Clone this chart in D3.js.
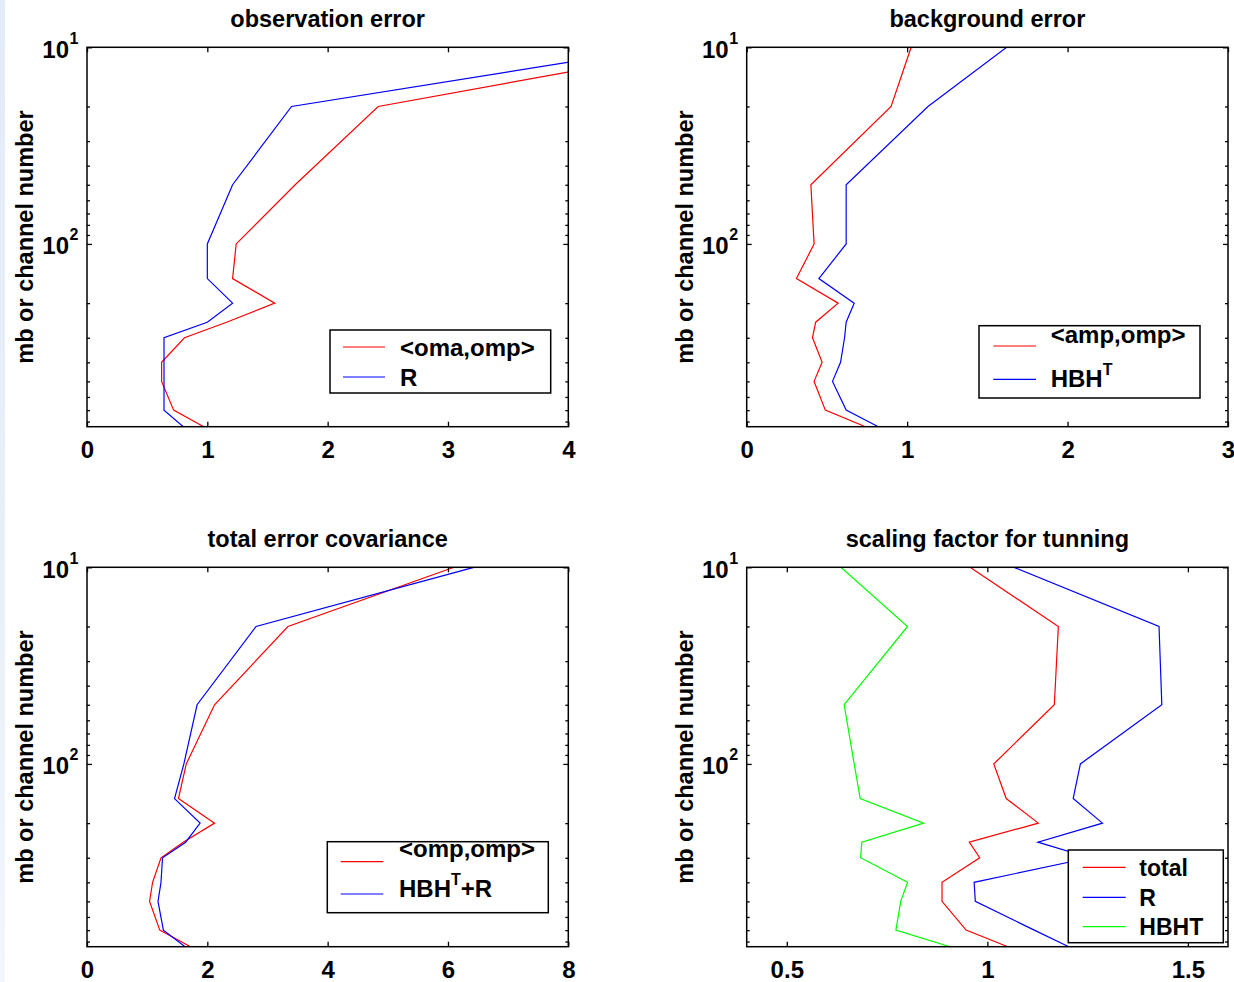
<!DOCTYPE html>
<html>
<head>
<meta charset="utf-8">
<script src="https://cdn.jsdelivr.net/npm/d3@7"></script>
<style>
  html, body { margin: 0; padding: 0; background: #fff; }
  svg { display: block; }
  text { font-family: "Liberation Sans", Arial, Helvetica, sans-serif; font-weight: bold; fill: #000; }
</style>
</head>
<body>
<svg id="fig" width="1234" height="982"></svg>
<script>
// Pressure levels (mb), top of the atmosphere first
const levels = [10, 20, 50, 100, 150, 200, 250, 300, 400, 500, 700, 850];

// observation error
const obsOmaOmp = [5.13, 2.42, 1.73, 1.24, 1.21, 1.56, 1.16, 0.81, 0.62, 0.62, 0.72, 0.97];
const obsR      = [4.78, 1.70, 1.21, 1.00, 1.00, 1.21, 1.00, 0.64, 0.64, 0.64, 0.64, 0.80];

// background error
const bgAmpOmp  = [1.025, 0.90, 0.40, 0.42, 0.31, 0.57, 0.43, 0.41, 0.47, 0.42, 0.49, 0.74];
const bgHBHT    = [1.62, 1.13, 0.62, 0.62, 0.45, 0.67, 0.62, 0.61, 0.585, 0.535, 0.62, 0.82];

// total error covariance
const totOmpOmp = [6.10, 3.34, 2.12, 1.65, 1.52, 2.12, 1.60, 1.23, 1.09, 1.04, 1.21, 1.72];
const totHBHTR  = [6.43, 2.81, 1.83, 1.61, 1.455, 1.88, 1.64, 1.255, 1.23, 1.18, 1.27, 1.63];

// scaling factor for tuning
const sfTotal   = [0.957, 1.177, 1.167, 1.016, 1.047, 1.127, 0.955, 0.981, 0.887, 0.887, 0.947, 1.051];
const sfR       = [1.066, 1.428, 1.435, 1.232, 1.214, 1.287, 1.126, 1.255, 0.967, 0.970, 1.117, 1.203];
const sfHBHT    = [0.635, 0.801, 0.643, 0.668, 0.683, 0.841, 0.687, 0.684, 0.801, 0.784, 0.772, 0.907];

// Axis ranges and tick labels
const xTicksObs = [0, 1, 2, 3, 4];
const xTicksBg  = [0, 1, 2, 3];
const xTicksTot = [0, 2, 4, 6, 8];
const xTicksSf  = [0.5, 1, 1.5];
const yMajor = [10, 100];
const yMinor = [20, 30, 40, 50, 60, 70, 80, 90, 200, 300, 400, 500, 600, 700, 800];
const yLabel = "mb or channel number";

const RED = "#ff0000", BLUE = "#0000ff", GREEN = "#00ff00";

const panels = [
  { title: "observation error", left: 87, top: 47.3, xDomain: [0, 4], xTicks: xTicksObs,
    series: [{ v: obsOmaOmp, c: RED }, { v: obsR, c: BLUE }],
    legend: { x: 330, y: 330, w: 220.7, h: 63, lineX: [13, 55], textX: 70,
      items: [ { c: RED, ly: 17, ty: 25.6, parts: [["<oma,omp>"]] },
               { c: BLUE, ly: 47, ty: 55.6, parts: [["R"]] } ] } },
  { title: "background error", left: 746.7, top: 47.3, xDomain: [0, 3], xTicks: xTicksBg,
    series: [{ v: bgAmpOmp, c: RED }, { v: bgHBHT, c: BLUE }],
    legend: { x: 979, y: 325.7, w: 221, h: 72.3, lineX: [14.3, 57], textX: 71.7,
      items: [ { c: RED, ly: 20.3, ty: 17.5, parts: [["<amp,omp>"]] },
               { c: BLUE, ly: 53.6, ty: 61.5, parts: [["HBH"], ["T", "sup"]] } ] } },
  { title: "total error covariance", left: 87, top: 567.3, xDomain: [0, 8], xTicks: xTicksTot,
    series: [{ v: totOmpOmp, c: RED }, { v: totHBHTR, c: BLUE }],
    legend: { x: 327.3, y: 841.7, w: 221, h: 71, lineX: [13.4, 56], textX: 71.7,
      items: [ { c: RED, ly: 20, ty: 15, parts: [["<omp,omp>"]] },
               { c: BLUE, ly: 52.3, ty: 55, parts: [["HBH"], ["T", "sup"], ["+R", "base"]] } ] } },
  { title: "scaling factor for tunning", left: 746.7, top: 567.3, xDomain: [0.4, 1.6], xTicks: xTicksSf,
    series: [{ v: sfTotal, c: RED }, { v: sfR, c: BLUE }, { v: sfHBHT, c: GREEN }],
    legend: { x: 1068.3, y: 850, w: 155, h: 92.7, lineX: [14.4, 57.4], textX: 71, fontSize: 23,
      items: [ { c: RED, ly: 17.3, ty: 26, parts: [["total"]] },
               { c: BLUE, ly: 47.3, ty: 56, parts: [["R"]] },
               { c: GREEN, ly: 76.7, ty: 85, parts: [["HBHT"]] } ] } }
];

const PW = 481.3, PH = 379.4;
const svg = d3.select("#fig");

// faint strip along the left margin
const grad = svg.append("defs").append("linearGradient")
  .attr("id", "edge").attr("x1", 0).attr("y1", 0).attr("x2", 0).attr("y2", 1);
grad.append("stop").attr("offset", "0%").attr("stop-color", "#e2ebf8");
grad.append("stop").attr("offset", "55%").attr("stop-color", "#e8eff9");
grad.append("stop").attr("offset", "100%").attr("stop-color", "#f3f6fb");
svg.append("rect").attr("x", 0).attr("y", 0).attr("width", 5).attr("height", 982).attr("fill", "url(#edge)");

panels.forEach((p, i) => {
  const x = d3.scaleLinear().domain(p.xDomain).range([p.left, p.left + PW]);
  const y = d3.scaleLog().domain([10, 850]).range([p.top, p.top + PH]);
  const bottom = p.top + PH, right = p.left + PW;
  const g = svg.append("g");

  const clipId = "clip" + i;
  svg.select("defs").append("clipPath").attr("id", clipId)
    .append("rect").attr("x", p.left).attr("y", p.top).attr("width", PW).attr("height", PH);

  // profiles
  const line = d3.line().x(d => x(d[0])).y(d => y(d[1]));
  const lines = g.append("g").attr("clip-path", `url(#${clipId})`);
  p.series.forEach(s => {
    lines.append("path")
      .attr("d", line(s.v.map((v, k) => [v, levels[k]])))
      .attr("fill", "none").attr("stroke", s.c).attr("stroke-width", 1.2)
      .attr("stroke-linejoin", "miter");
  });

  // ticks (inward on all four sides)
  const styleAxis = sel => {
    sel.select(".domain").remove();
    sel.selectAll(".tick line").attr("stroke", "#000").attr("stroke-width", 1.3);
  };
  g.append("g").attr("transform", `translate(0,${bottom})`)
    .call(d3.axisBottom(x).tickValues(p.xTicks).tickSizeInner(-5).tickSizeOuter(0).tickPadding(14)
      .tickFormat(d3.format("")))
    .call(styleAxis)
    .call(sel => sel.selectAll(".tick text").attr("font-size", 24).attr("font-family", null).attr("fill", "#000"));
  g.append("g").attr("transform", `translate(0,${p.top})`)
    .call(d3.axisTop(x).tickValues(p.xTicks).tickSizeInner(-5).tickSizeOuter(0).tickFormat(""))
    .call(styleAxis);
  [[yMajor, 5], [yMinor, 3]].forEach(([vals, len]) => {
    g.append("g").attr("transform", `translate(${p.left},0)`)
      .call(d3.axisLeft(y).tickValues(vals).tickSizeInner(-len).tickSizeOuter(0).tickFormat(""))
      .call(styleAxis);
    g.append("g").attr("transform", `translate(${right},0)`)
      .call(d3.axisRight(y).tickValues(vals).tickSizeInner(-len).tickSizeOuter(0).tickFormat(""))
      .call(styleAxis);
  });

  // y tick labels as powers of ten
  yMajor.forEach(v => {
    const ty = y(v);
    g.append("text").attr("x", p.left - 18).attr("y", ty + 10.5)
      .attr("text-anchor", "end").attr("font-size", 24).text("10");
    g.append("text").attr("x", p.left - 17.5).attr("y", ty - 3.5)
      .attr("font-size", 16).text(String(Math.round(Math.log10(v))));
  });

  // box
  g.append("rect").attr("x", p.left).attr("y", p.top).attr("width", PW).attr("height", PH)
    .attr("fill", "none").attr("stroke", "#000").attr("stroke-width", 1.5);

  // title and y label
  g.append("text").attr("x", p.left + PW / 2).attr("y", p.top - 20)
    .attr("text-anchor", "middle").attr("font-size", 23.5).text(p.title);
  g.append("text")
    .attr("transform", `translate(${p.left - 54},${p.top + PH / 2}) rotate(-90)`)
    .attr("text-anchor", "middle").attr("font-size", 23.5).text(yLabel);

  // legend
  const L = p.legend, fs = L.fontSize || 24;
  const lg = g.append("g").attr("transform", `translate(${L.x},${L.y})`);
  lg.append("rect").attr("width", L.w).attr("height", L.h)
    .attr("fill", "#fff").attr("stroke", "#000").attr("stroke-width", 1.5);
  L.items.forEach(it => {
    lg.append("line").attr("x1", L.lineX[0]).attr("x2", L.lineX[1])
      .attr("y1", it.ly).attr("y2", it.ly).attr("stroke", it.c).attr("stroke-width", 1.2);
    const t = lg.append("text").attr("x", L.textX).attr("y", it.ty).attr("font-size", fs);
    let shifted = false;
    it.parts.forEach(([str, kind]) => {
      const ts = t.append("tspan").text(str);
      if (kind === "sup") { ts.attr("font-size", 16).attr("dy", -12); shifted = true; }
      else if (kind === "base" && shifted) { ts.attr("dy", 12); shifted = false; }
    });
  });
});
</script>
</body>
</html>
